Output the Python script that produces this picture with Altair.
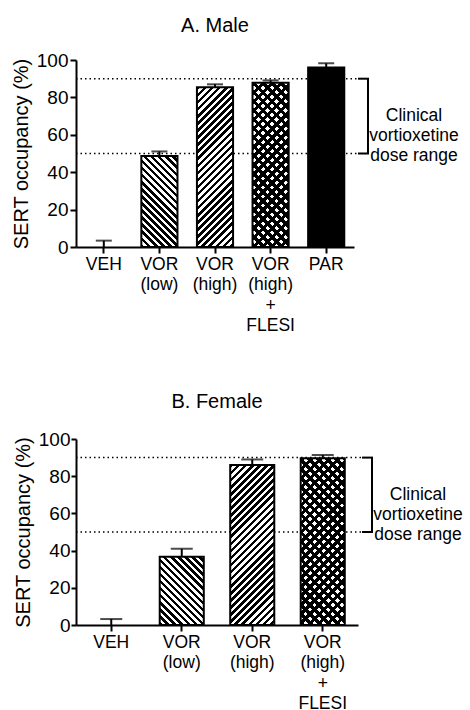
import altair as alt
import pandas as pd

FONT = "Liberation Sans"

# ---- data ----
male_cats = ["VEH", "VOR|(low)", "VOR|(high)", "VOR|(high)|+|FLESI", "PAR"]
male_mean = [0.0, 48.7, 85.4, 87.9, 96.0]
male_sem = [3.4, 2.4, 1.6, 1.2, 2.2]
male_patterns = ["none", "back", "fwd", "cross", "solid"]

female_cats = ["VEH", "VOR|(low)", "VOR|(high)", "VOR|(high)|+|FLESI"]
female_mean = [0.0, 36.7, 86.0, 89.6]
female_sem = [3.2, 4.3, 3.0, 1.8]
female_patterns = ["none", "back", "fwd", "cross"]

range_lines = [50, 90]
bracket_text = ["Clinical", "vortioxetine", "dose range"]
panel_titles = ["A. Male", "B. Female"]
y_ticks = [0, 20, 40, 60, 80, 100]
y_title = "SERT occupancy (%)"


def stripe_gradient(w, h, direction, period, black_frac, bg):
    ext = (w + h) / 2 ** 0.5
    n = ext / period
    s = (w + h) / (w * w + h * h)
    if direction == "back":
        x1, y1, x2, y2 = 0.0, 1.0, s * w, 1.0 - s * h
    else:
        x1, y1, x2, y2 = 0.0, 0.0, s * w, s * h
    stops = []
    k = 0
    while k / n < 1:
        a = round(k / n, 5)
        b = round(min((k + black_frac) / n, 1.0), 5)
        c = round(min((k + 1) / n, 1.0), 5)
        stops += [
            alt.GradientStop(offset=a, color="black"),
            alt.GradientStop(offset=b, color="black"),
            alt.GradientStop(offset=b, color=bg),
            alt.GradientStop(offset=c, color=bg),
        ]
        k += 1
    return alt.LinearGradient(gradient="linear", stops=stops,
                              x1=round(x1, 5), y1=round(y1, 5),
                              x2=round(x2, 5), y2=round(y2, 5))


def panel(title, cats, means, sems, pats, W, H, pi, cap, tick_size, label_pad, toff):
    po = pi / 2
    step = W / (len(cats) - pi + 2 * po)
    bw = step * (1 - pi)
    df = pd.DataFrame({"cat": cats, "mean": means,
                       "top": [m + s for m, s in zip(means, sems)]})
    xscale = alt.Scale(domain=cats, paddingInner=pi, paddingOuter=po)
    xaxis = alt.Axis(labelAngle=0, labelExpr="split(datum.label, '|')",
                     labelFontSize=17.5, labelLineHeight=20.5, labelPadding=2,
                     tickSize=6, labelBaseline="top")
    yscale = alt.Scale(domain=[0, 100], nice=False)
    yaxis = alt.Axis(values=y_ticks, labelFontSize=19, tickSize=tick_size,
                     labelPadding=label_pad, titleFontSize=20,
                     titleFontWeight="normal", titlePadding=5)

    def X():
        return alt.X("cat:N", scale=xscale, axis=xaxis, title=None)

    def Y(f):
        return alt.Y(f, scale=yscale, axis=yaxis, title=y_title)

    ref_df = pd.DataFrame({"v": range_lines})
    layers = []
    layers.append(
        alt.Chart(ref_df).mark_rule(strokeDash=[1.5, 3], strokeWidth=1.5, color="black")
        .encode(y=Y("v:Q"), x=alt.value(0), x2=alt.value(W + 4))
    )
    base = alt.Chart(df)
    for c, m, p in zip(cats, means, pats):
        h = m / 100.0 * H
        f = base.transform_filter(alt.datum.cat == c)
        if p == "solid":
            layers.append(f.mark_bar(fill="black", stroke="black", strokeWidth=2)
                          .encode(x=X(), y=Y("mean:Q")))
        elif p in ("back", "fwd"):
            layers.append(f.mark_bar(fill=stripe_gradient(bw, h, p, 5.0, 0.5, "white"),
                                     stroke="black", strokeWidth=2)
                          .encode(x=X(), y=Y("mean:Q")))
        elif p == "cross":
            layers.append(f.mark_bar(fill=stripe_gradient(bw, h, "back", 6.4, 0.5, "white"),
                                     strokeWidth=0)
                          .encode(x=X(), y=Y("mean:Q")))
            layers.append(f.mark_bar(fill=stripe_gradient(bw, h, "fwd", 6.4, 0.5,
                                                          "rgba(255,255,255,0)"),
                                     stroke="black", strokeWidth=2)
                          .encode(x=X(), y=Y("mean:Q")))
    layers.append(base.mark_rule(color="black", strokeWidth=2)
                  .encode(x=X(), y=Y("mean:Q"), y2="top:Q"))
    layers.append(base.mark_tick(color="black", thickness=2, size=cap)
                  .encode(x=X(), y=Y("top:Q")))
    # bracket
    br = pd.DataFrame({"lo": [min(range_lines)], "hi": [max(range_lines)],
                       "mid": [sum(range_lines) / 2]})
    layers.append(alt.Chart(br).mark_rule(color="black", strokeWidth=2)
                  .encode(x=alt.value(W + 14), y=Y("hi:Q"), y2="lo:Q"))
    layers.append(alt.Chart(ref_df).mark_rule(color="black", strokeWidth=2)
                  .encode(y=Y("v:Q"), x=alt.value(W + 4), x2=alt.value(W + 15)))
    layers.append(alt.Chart(br).mark_text(text=bracket_text, lineHeight=20, fontSize=17.5,
                                          font=FONT, align="center", baseline="middle",
                                          color="black")
                  .encode(x=alt.value(W + 60), y=Y("mid:Q")))
    return alt.layer(*layers).properties(
        width=W, height=H,
        title=alt.TitleParams(text=title, fontSize=20, font=FONT, fontWeight="normal",
                              anchor="middle", frame="group", offset=toff,
                              color="black"),
    )


top = panel(panel_titles[0], male_cats, male_mean, male_sem, male_patterns,
            278, 187, 0.35, 16, 6, 2, 15)
bottom = panel(panel_titles[1], female_cats, female_mean, female_sem, female_patterns,
               282, 186, 0.375, 22, 5, 1, 18)

chart = alt.vconcat(top, bottom, spacing=58).properties(
    padding={"left": 11, "top": 16, "right": 0, "bottom": 0}
).configure_view(stroke=None).configure_axis(
    labelFont=FONT, titleFont=FONT, labelColor="black", titleColor="black",
    domainColor="black", tickColor="black", domainWidth=2, tickWidth=2, grid=False,
).configure_text(font=FONT)

chart.save("out.html", embed_options={"renderer": "svg", "actions": False})
